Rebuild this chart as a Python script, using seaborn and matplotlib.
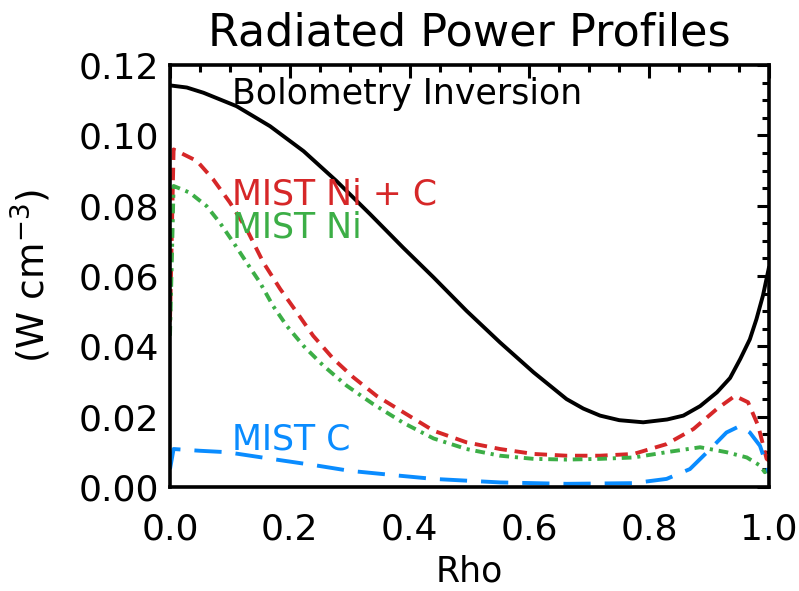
import matplotlib
matplotlib.use("Agg")
import matplotlib.pyplot as plt
import seaborn as sns
import numpy as np
import pandas as pd
from matplotlib.ticker import MultipleLocator, FormatStrFormatter

# ---- data ----
rho_bolo = [0.0, 0.028, 0.056, 0.111, 0.167, 0.223, 0.278, 0.334, 0.389, 0.440, 0.495,
            0.551, 0.607, 0.662, 0.690, 0.718, 0.750, 0.790, 0.830, 0.857, 0.885,
            0.913, 0.935, 0.952, 0.968, 0.979, 0.990, 1.0]
val_bolo = [0.1142, 0.1136, 0.1121, 0.1083, 0.1026, 0.0955, 0.0870, 0.0776, 0.0681, 0.0596, 0.0501,
            0.0411, 0.0326, 0.0250, 0.0223, 0.0203, 0.0190, 0.0184, 0.0192, 0.0203, 0.0230,
            0.0269, 0.0310, 0.0364, 0.0420, 0.0477, 0.0545, 0.0625]

rho_nic = [0.0, 0.006, 0.045, 0.072, 0.100, 0.128, 0.156, 0.184, 0.212, 0.239,
           0.273, 0.306, 0.345, 0.390, 0.440, 0.495, 0.551, 0.607, 0.662, 0.718,
           0.774, 0.829, 0.874, 0.913, 0.943, 0.965, 0.982, 0.996, 1.0]
val_nic = [0.047, 0.0960, 0.0927, 0.0875, 0.0809, 0.0733, 0.0638, 0.0563, 0.0496, 0.0430,
           0.0364, 0.0312, 0.0259, 0.0212, 0.0160, 0.0127, 0.0108, 0.0094, 0.0089, 0.0089,
           0.0094, 0.0122, 0.0165, 0.0222, 0.0259, 0.0241, 0.0174, 0.0080, 0.0075]

rho_ni = [0.0, 0.006, 0.033, 0.061, 0.083, 0.106, 0.128, 0.150, 0.172, 0.195,
          0.223, 0.256, 0.295, 0.339, 0.390, 0.440, 0.495, 0.551, 0.607, 0.662,
          0.718, 0.774, 0.829, 0.885, 0.929, 0.963, 0.985, 0.993, 1.0]
val_ni = [0.043, 0.0856, 0.0837, 0.0799, 0.0752, 0.0695, 0.0638, 0.0582, 0.0515, 0.0458,
          0.0401, 0.0345, 0.0288, 0.0236, 0.0182, 0.0138, 0.0108, 0.0089, 0.0080, 0.0078,
          0.0080, 0.0084, 0.0099, 0.0113, 0.0099, 0.0084, 0.0061, 0.0042, 0.0050]

rho_c = [0.0, 0.006, 0.05, 0.095, 0.134, 0.189, 0.245, 0.30, 0.384, 0.44, 0.551,
         0.662, 0.774, 0.829, 0.868, 0.902, 0.929, 0.952, 0.968, 0.985, 0.996, 1.0]
val_c = [0.0051, 0.0108, 0.0103, 0.0099, 0.0089, 0.0075, 0.0061, 0.0046, 0.0032, 0.0023, 0.0013,
         0.0009, 0.0011, 0.0023, 0.0051, 0.0108, 0.0155, 0.0174, 0.0155, 0.0117, 0.0061, 0.0040]

labels = ["Bolometry Inversion", "MIST Ni + C", "MIST Ni", "MIST C"]
label_y = [0.1117, 0.0832, 0.0739, 0.0134]
label_x = 0.103

title = "Radiated Power Profiles"
xlabel = "Rho"
ylabel = r"(W cm$^{-3}$)"

BLACK = "#000000"
RED = "#d62728"
GREEN = "#3cae46"
BLUE = "#0a8cff"

# ---- styling ----
sns.set_theme(style="white")
plt.rcParams["font.family"] = ["DejaVu Sans"]
plt.rcParams["mathtext.fontset"] = "dejavusans"
plt.rcParams["text.color"] = "black"
plt.rcParams["axes.labelcolor"] = "black"

fig = plt.figure(figsize=(7.99, 5.91), dpi=100)
ax = fig.add_axes([170 / 799, 1 - 487 / 591, (769 - 170) / 799, (487 - 65) / 591])

LW = 2.8
series = [
    (rho_bolo, val_bolo, BLACK, None),
    (rho_nic, val_nic, RED, (3.2, 2.0)),
    (rho_ni, val_ni, GREEN, (2.5, 1.5, 0.8, 1.5)),
    (rho_c, val_c, BLUE, (7.0, 3.6)),
]
for r, v, col, dash in series:
    df = pd.DataFrame({"rho": r, "val": v})
    sns.lineplot(data=df, x="rho", y="val", ax=ax, color=col, linewidth=LW,
                 estimator=None, sort=False)
    ln = ax.lines[-1]
    if dash is not None:
        ln.set_dashes(dash)
    ln.set_dash_capstyle("butt")
    ln.set_solid_joinstyle("round")

ax.set_xlim(0, 1.0)
ax.set_ylim(0, 0.12)
ax.xaxis.set_major_locator(MultipleLocator(0.2))
ax.xaxis.set_minor_locator(MultipleLocator(0.05))
ax.yaxis.set_major_locator(MultipleLocator(0.02))
ax.yaxis.set_minor_locator(MultipleLocator(0.005))
ax.xaxis.set_major_formatter(FormatStrFormatter("%.1f"))
ax.yaxis.set_major_formatter(FormatStrFormatter("%.2f"))

for s in ax.spines.values():
    s.set_visible(True)
    s.set_color("black")
    s.set_linewidth(2.6)

ax.tick_params(axis="both", which="both", direction="in", top=True, right=True,
               color="black", width=2.2, labelcolor="black")
ax.tick_params(axis="both", which="major", length=9)
ax.tick_params(axis="both", which="minor", length=5)
ax.tick_params(axis="x", which="major", labelsize=26, pad=18)
ax.tick_params(axis="y", which="major", labelsize=26, pad=8)

ax.set_xlabel(xlabel, fontsize=25, labelpad=6, color="black")
ax.set_ylabel(ylabel, fontsize=27, labelpad=18, color="black")
fig.text(469.5 / 799, 1 - 33 / 591, title, fontsize=32, ha="center", va="center",
         color="black")

for lab, ly, col in zip(labels, label_y, [BLACK, RED, GREEN, BLUE]):
    ax.text(label_x, ly, lab, color=col, fontsize=25, ha="left", va="center")

fig.savefig("out.png", dpi=100)
